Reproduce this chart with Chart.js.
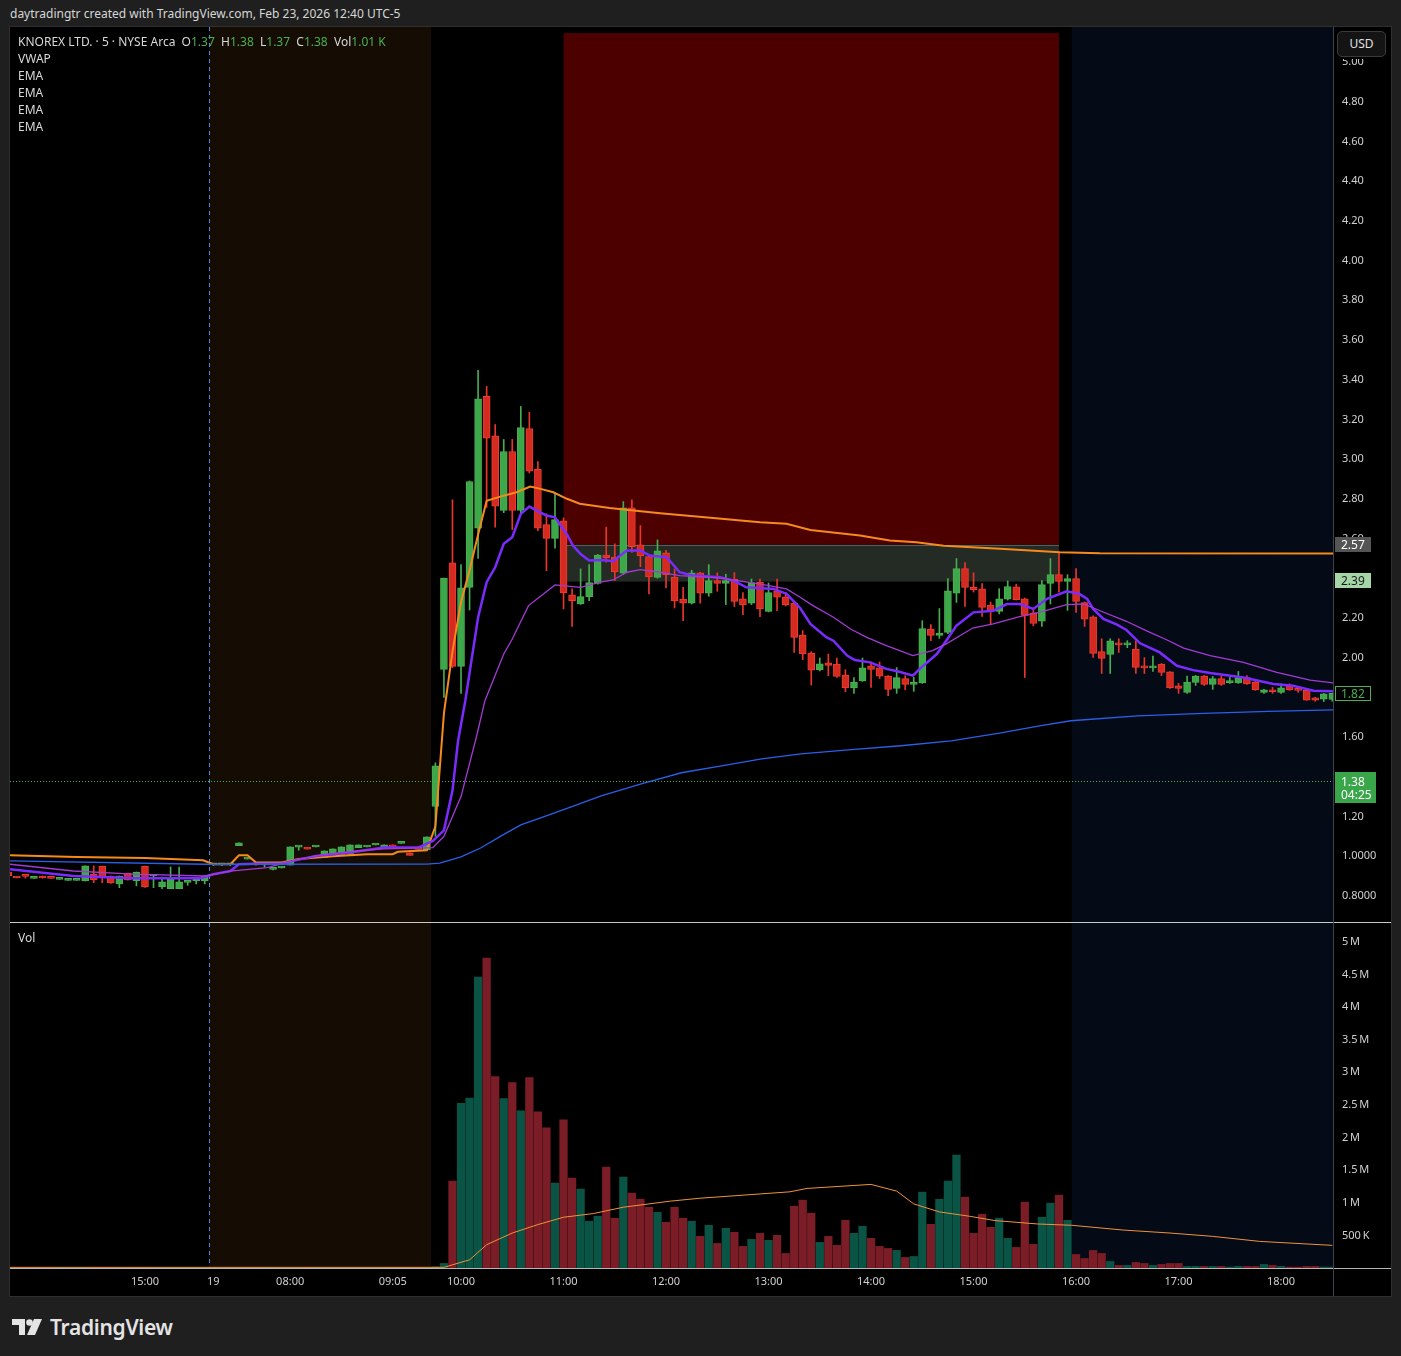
<!DOCTYPE html>
<html>
<head>
<meta charset="utf-8">
<script src="https://cdn.jsdelivr.net/npm/chart.js@4.4.1/dist/chart.umd.min.js"></script>
<style>
body{margin:0;background:#1f1f1f;width:1401px;height:1356px;position:relative;overflow:hidden;font-family:"Noto Sans",Lato,sans-serif;color:#d1d4dc}
.abs{position:absolute}
#top{left:10px;top:5px;font-size:12px;color:#d6d6d6}
#frame{left:9px;top:26px;width:1383px;height:1271px;border:1px solid #2f2f2f;box-sizing:border-box;background:#000}
#pwrap{left:10px;top:27px;width:1381px;height:895px}
#vwrap{left:10px;top:923px;width:1381px;height:373px}
#sep{left:10px;top:922px;width:1381px;height:1px;background:#c9c9c9}
#tline{left:10px;top:1268px;width:1381px;height:1px;background:#b5b5b5}
#vline{left:1333px;top:27px;width:1px;height:1269px;background:#3d4250}
.leg{left:18px;font-size:12px;color:#d8d8d8;line-height:17px}
.g{color:#4caf50}
#usdbg{left:1334px;top:27px;width:57px;height:32px;background:#000}
#usd{left:1337px;top:31px;width:49px;height:26px;border:1px solid #3a3a3a;border-radius:5px;background:#141414;box-sizing:border-box;font-size:12px;color:#e0e0e0;text-align:center;line-height:24px}
#logo{left:12px;top:1314px;height:26px;display:flex;align-items:center;gap:8px;color:#e4e4e4;font-size:21px;font-weight:600;letter-spacing:-0.3px}
</style>
</head>
<body>
<div id="top" class="abs">daytradingtr created with TradingView.com, Feb 23, 2026 12:40 UTC-5</div>
<div id="frame" class="abs"></div>
<div id="pwrap" class="abs"><canvas id="price" width="1381" height="895"></canvas></div>
<div id="vwrap" class="abs"><canvas id="vol" width="1381" height="373"></canvas></div>
<div id="sep" class="abs"></div>
<div id="tline" class="abs"></div>
<div id="vline" class="abs"></div>
<div class="abs leg" style="top:33px">KNOREX LTD. · 5 · NYSE Arca&nbsp; O<span class="g">1.37</span>&nbsp; H<span class="g">1.38</span>&nbsp; L<span class="g">1.37</span>&nbsp; C<span class="g">1.38</span>&nbsp; Vol<span class="g">1.01 K</span></div>
<div class="abs leg" style="top:50px">VWAP</div>
<div class="abs leg" style="top:67px">EMA</div>
<div class="abs leg" style="top:84px">EMA</div>
<div class="abs leg" style="top:101px">EMA</div>
<div class="abs leg" style="top:118px">EMA</div>
<div class="abs leg" style="top:929px">Vol</div>
<div id="usdbg" class="abs"></div>
<div id="usd" class="abs">USD</div>
<div id="logo" class="abs">
  <svg width="30" height="18" viewBox="0 0 30 18"><path d="M0 1h13v16h-6V7H0z" fill="#e4e4e4"/><circle cx="17.5" cy="4.5" r="3.3" fill="#e4e4e4"/><path d="M22 1h8l-7 16h-8z" fill="#e4e4e4"/></svg>
  <span>TradingView</span>
</div>

<script>
// bar positions: index 0 = first visible bar (Feb 18), index 53 = 10:00 Feb 19
const openP = [
  .92,.895,.90,.888,.90,.89,.883,.878,.878,.875,
  .91,.95,.90,.86,.915,.875,.95,.90,.846,.836,
  .836,.868,.875,.875,.956,.956,.956,1.053,.985,.958,
  .956,.933,.94,.955,1.045,1.043,1.046,.993,1.013,1.004,
  1.008,1.043,1.046,1.056,1.043,1.057,1.064,1.017,1.036,1.033,
  1.25,1.94,2.477,1.956,2.354,2.652,3.316,3.117,2.741,3.038,
  2.741,3.154,2.948,2.670,2.601,2.689,2.316,2.270,2.307,2.374,
  2.517,2.507,2.425,2.754,2.568,2.509,2.404,2.528,2.406,2.295,
  2.274,2.427,2.324,2.388,2.374,2.396,2.296,2.274,2.381,2.233,
  2.337,2.306,2.275,2.114,2.023,1.939,1.974,1.968,1.912,1.847,
  1.882,1.958,1.948,1.907,1.845,1.894,1.865,1.873,2.144,2.112,
  2.127,2.324,2.448,2.354,2.346,2.265,2.233,2.294,2.356,2.296,
  2.226,2.183,2.374,2.418,2.384,2.398,2.277,2.206,2.030,2.016,
  2.074,2.064,2.043,1.958,1.948,1.968,1.928,1.858,1.825,1.875,
  1.907,1.865,1.894,1.874,1.873,1.899,1.877,1.825,1.838,1.825,
  1.858,1.84,1.835,1.798,1.791,1.79
];
const highP = [
  .92,.895,.90,.89,.90,.89,.885,.88,.88,.951,
  .951,.95,.90,.90,.915,.92,.95,.905,.895,.945,
  .945,.87,.89,.90,.96,.96,.96,1.067,.99,.96,
  .958,.936,.944,1.047,1.048,1.044,1.048,1.027,1.037,1.047,
  1.057,1.057,1.048,1.058,1.057,1.057,1.066,1.017,1.036,1.097,
  1.47,2.40,2.795,2.468,2.89,3.447,3.366,3.174,3.099,3.099,
  3.265,3.236,2.988,2.724,2.825,2.704,2.346,2.447,2.468,2.52,
  2.657,2.573,2.786,2.795,2.665,2.51,2.593,2.54,2.447,2.354,
  2.44,2.43,2.468,2.427,2.42,2.428,2.327,2.396,2.396,2.376,
  2.396,2.327,2.28,2.136,2.03,1.998,2.018,1.998,1.939,1.899,
  1.998,1.978,1.978,1.91,1.95,1.909,1.90,2.186,2.166,2.247,
  2.398,2.499,2.479,2.427,2.373,2.28,2.347,2.386,2.37,2.30,
  2.25,2.388,2.499,2.529,2.418,2.448,2.28,2.21,2.095,2.095,
  2.095,2.085,2.085,2.0,2.008,1.97,1.93,1.87,1.907,1.91,
  1.91,1.905,1.907,1.90,1.93,1.91,1.88,1.84,1.85,1.868,
  1.868,1.842,1.84,1.80,1.82,1.82
];
const lowP = [
  .90,.89,.889,.888,.889,.888,.883,.878,.878,.875,
  .866,.866,.863,.841,.879,.85,.843,.841,.836,.836,
  .836,.853,.86,.86,.953,.953,.953,1.053,.985,.955,
  .945,.93,.94,.955,1.03,1.035,1.046,.993,1.013,1.004,
  1.008,1.043,1.046,1.056,1.043,1.047,1.064,1.004,1.034,1.033,
  1.10,1.80,1.95,1.82,2.24,2.50,2.757,2.657,2.73,2.645,
  2.72,2.93,2.64,2.438,2.551,2.245,2.157,2.268,2.287,2.37,
  2.48,2.388,2.42,2.53,2.458,2.321,2.40,2.351,2.25,2.186,
  2.27,2.274,2.309,2.334,2.267,2.257,2.216,2.267,2.206,2.23,
  2.236,2.26,2.026,1.99,1.862,1.933,1.909,1.90,1.828,1.82,
  1.88,1.85,1.895,1.808,1.82,1.838,1.83,1.87,2.085,2.097,
  2.12,2.278,2.258,2.33,2.208,2.17,2.22,2.29,2.29,1.90,
  2.16,2.157,2.27,2.33,2.238,2.228,2.157,2.001,1.92,1.92,
  2.026,2.05,1.92,1.92,1.93,1.909,1.845,1.82,1.82,1.86,
  1.86,1.84,1.86,1.87,1.87,1.865,1.835,1.82,1.82,1.82,
  1.835,1.825,1.785,1.78,1.779,1.78
];
const closeP = [
  .90,.89,.898,.89,.89,.888,.885,.88,.88,.951,
  .88,.895,.865,.90,.88,.92,.845,.905,.87,.884,
  .87,.87,.89,.90,.958,.958,.958,1.067,.988,.956,
  .958,.935,.943,1.047,1.047,1.035,1.048,1.027,1.037,1.047,
  1.057,1.057,1.048,1.058,1.057,1.047,1.066,1.004,1.034,1.097,
  1.455,2.40,1.956,2.351,2.887,3.304,3.105,2.763,3.038,2.741,
  3.159,2.939,2.652,2.601,2.695,2.326,2.287,2.307,2.378,2.517,
  2.504,2.432,2.754,2.559,2.512,2.406,2.538,2.417,2.285,2.274,
  2.427,2.324,2.388,2.374,2.388,2.283,2.265,2.378,2.245,2.327,
  2.304,2.265,2.102,2.018,1.937,1.969,1.961,1.905,1.847,1.877,
  1.948,1.941,1.907,1.84,1.899,1.865,1.873,2.146,2.112,2.124,
  2.337,2.448,2.354,2.342,2.253,2.233,2.296,2.358,2.292,2.213,
  2.172,2.368,2.418,2.384,2.398,2.283,2.193,2.021,1.996,2.085,
  2.064,2.074,1.951,1.948,1.958,1.926,1.847,1.845,1.877,1.907,
  1.865,1.894,1.865,1.877,1.899,1.867,1.837,1.838,1.828,1.848,
  1.837,1.835,1.786,1.786,1.818,1.82
];
// volume in millions
const volM = [
  .01,.01,.01,.01,.01,.01,.01,.01,.01,.01,
  .01,.01,.01,.01,.01,.01,.01,.01,.01,.01,
  .01,.01,.01,.01,.01,.01,.01,.01,.01,.01,
  .01,.01,.01,.01,.01,.01,.01,.01,.01,.01,
  .01,.01,.01,.01,.01,.01,.01,.01,.01,.01,
  .02,.07,1.333,2.524,2.607,4.46,4.753,2.935,2.596,2.843,
  2.411,2.92,2.396,2.149,1.302,2.273,1.379,1.21,.717,.794,
  1.549,.763,1.394,1.148,1.055,.932,.855,.701,.932,.763,
  .717,.485,.655,.377,.609,.547,.331,.439,.532,.424,
  .501,.223,.948,1.04,.84,.393,.485,.347,.732,.532,
  .64,.455,.331,.30,.27,.162,.177,1.163,.67,1.055,
  1.333,1.733,1.086,.532,.824,.624,.763,.455,.316,1.01,
  .362,.778,.994,1.117,.732,.208,.146,.27,.223,.10,
  .04,.04,.085,.07,.04,.055,.07,.07,.025,.025,
  .025,.025,.025,.015,.025,.025,.025,.055,.04,.025,
  .015,.015,.025,.025,.015,.015
];

// indicator lines: [barPosition, value]
const vwapLine = [[0.2,1.004],[8,.995],[16,.99],[22.8,.979],[24,.959],[26,.959],[27,1.004],[28,1.004],[29,.968],[32,.968],[34,.985],[38,1.0],[42,1.009],[45,1.01],[45.6,1.022],[49,1.029],[50,1.15],[51,1.72],[52,2.03],[53,2.28],[54,2.44],[55,2.62],[56,2.79],[57.6,2.811],[59.5,2.833],[61.1,2.862],[62.3,2.85],[63.8,2.833],[65.4,2.80],[66.9,2.775],[70.4,2.754],[76.3,2.727],[82.2,2.704],[88,2.682],[91.1,2.674],[93.9,2.643],[99.7,2.615],[103.2,2.59],[106.3,2.581],[109.5,2.564],[116.1,2.548],[123.1,2.531],[127.8,2.526],[155.1,2.524]];
const emaFast = [[0.2,.934],[7.6,.90],[14.6,.889],[22.5,.889],[24,.909],[26,.925],[27,.959],[29,.962],[32,.962],[33.3,.976],[36,1.001],[40,1.018],[44,1.043],[48,1.043],[49.7,1.077],[51,1.13],[52,1.33],[52.65,1.58],[53.5,1.783],[55,2.203],[56,2.38],[57,2.455],[58,2.573],[59,2.606],[60,2.724],[61,2.761],[62.25,2.732],[63,2.716],[64,2.707],[65.4,2.62],[66.1,2.564],[67,2.522],[68,2.489],[69.7,2.492],[70.8,2.486],[72.4,2.539],[74,2.539],[75.1,2.514],[77.1,2.505],[78.6,2.43],[80.2,2.413],[83.3,2.405],[84.9,2.388],[86.4,2.354],[89.6,2.346],[91.1,2.321],[92.7,2.25],[93.9,2.17],[95.8,2.102],[96.6,2.085],[98.2,2.01],[99.1,1.988],[100.9,1.976],[102.8,1.943],[104.3,1.929],[105.9,1.909],[106.7,1.943],[108.7,2.018],[109.8,2.085],[111,2.161],[113,2.228],[115.3,2.236],[116.9,2.27],[118.4,2.27],[120,2.245],[121.6,2.296],[123.9,2.334],[125.4,2.321],[126.3,2.296],[127,2.245],[128.2,2.195],[129.8,2.166],[130.9,2.139],[132.5,2.072],[134.8,2.026],[136.8,1.959],[138.7,1.937],[140.7,1.922],[144.6,1.90],[148.1,1.867],[150.4,1.858],[152.8,1.833],[155.1,1.83]];
const emaMid = [[0.2,.959],[7.6,.925],[14.6,.909],[23,.90],[26,.925],[30.3,.942],[33.3,.976],[36,1.001],[41,1.027],[44,1.037],[49.7,1.043],[51,1.10],[53,1.30],[54.8,1.60],[55.8,1.783],[58,2.018],[59,2.094],[60.9,2.262],[64,2.366],[67,2.354],[69.3,2.38],[70.8,2.391],[72.4,2.43],[74,2.443],[76.3,2.43],[78.6,2.413],[83.3,2.401],[87.9,2.371],[91.1,2.346],[92.7,2.304],[94.2,2.262],[96.6,2.203],[98.6,2.144],[100.5,2.102],[102.8,2.06],[105.9,2.01],[108.2,2.035],[109.8,2.069],[111.4,2.11],[112.9,2.149],[115.3,2.17],[118.4,2.206],[120.7,2.228],[123.9,2.267],[125.9,2.27],[127.8,2.236],[130.9,2.183],[133.2,2.136],[135.6,2.09],[137.6,2.048],[140.7,2.01],[144.6,1.976],[148.5,1.926],[152.4,1.887],[155.1,1.873]];
const emaSlow = [[0.2,.976],[23,.959],[49,.96],[50.5,.965],[53,.996],[55.3,1.041],[57.7,1.102],[60,1.157],[62.4,1.194],[65.9,1.248],[69.4,1.304],[74.1,1.364],[78.8,1.42],[83.5,1.455],[88.2,1.49],[92.8,1.515],[98.7,1.536],[104.5,1.556],[110.4,1.581],[116.2,1.621],[120.9,1.657],[124.4,1.682],[132.2,1.707],[139.9,1.719],[147.5,1.729],[155.1,1.737]];
const volAvg = [[0,.01],[51,.01],[54,.126],[56,.357],[59,.536],[62,.666],[65,.778],[68.5,.835],[72,.932],[77.5,1.025],[81,1.07],[91.5,1.168],[93.5,1.22],[101,1.282],[104,1.179],[106,.983],[109,.86],[112.5,.794],[115.5,.727],[120.5,.675],[124.5,.655],[130.5,.582],[136,.536],[141,.485],[146.5,.408],[155,.347]];

// time axis labels at bar positions
const timeTickPos = [16, 24, 33, 45, 53, 65, 77, 89, 101, 113, 125, 137, 149];
const timeTickText = ['15:00', '19', '08:00', '09:05', '10:00', '11:00', '12:00', '13:00', '14:00', '15:00', '16:00', '17:00', '18:00'];
const priceTicks = [0.8, 1.0, 1.2, 1.4, 1.6, 1.8, 2.0, 2.2, 2.4, 2.6, 2.8, 3.0, 3.2, 3.4, 3.6, 3.8, 4.0, 4.2, 4.4, 4.6, 4.8, 5.0];
const volTicks = [0.5, 1, 1.5, 2, 2.5, 3, 3.5, 4, 4.5, 5];

// sessions, zones and price levels
const DAY_SPLIT = 23.5, PRE_END = 49.5, POST_START = 124.5;
const ZONE_FROM = 65, ZONE_TO = 123;
const STOP_TOP = 5.146, ENTRY = 2.569, TARGET = 2.383;
const LAST_PRICE = 1.38;

const X_MIN = 0.2, X_MAX = 155.08;
const P_MIN = 0.6682, P_MAX = 5.1765;

const up = openP.map((o, k) => closeP[k] >= o);
const bodyFill = up.map(u => u ? '#3da84a' : '#d42a20');
const bodyEdge = up.map(u => u ? '#4caf50' : '#f03c30');
const wickCol = up.map(u => u ? '#46ad52' : '#e8362b');
const volCol = up.map(u => u ? '#0a5446' : '#7b1d26');

const FONT = {family: '"Noto Sans", sans-serif', size: 11};
const pts = arr => arr.map(p => ({x: p[0], y: p[1]}));

function noPadV(s, w) { s.width = w; s.paddingTop = 0; s.paddingBottom = 0; }
function noPadH(s, h) { s.height = h; s.paddingLeft = 0; s.paddingRight = 0; }

const bgPlugin = {
  id: 'bg',
  beforeDatasetsDraw(chart, args, opts) {
    const {ctx, chartArea: a, scales: {x, y}} = chart;
    const px = v => x.getPixelForValue(v);
    ctx.save();
    ctx.beginPath(); ctx.rect(a.left, a.top, a.width, a.height); ctx.clip();
    ctx.fillStyle = '#150d04';
    ctx.fillRect(px(DAY_SPLIT), a.top, px(PRE_END) - px(DAY_SPLIT), a.height);
    ctx.fillStyle = '#050a17';
    ctx.fillRect(px(POST_START), a.top, a.right - px(POST_START), a.height);
    if (opts.zones) {
      ctx.fillStyle = '#4c0000';
      ctx.fillRect(px(ZONE_FROM), y.getPixelForValue(STOP_TOP), px(ZONE_TO) - px(ZONE_FROM), y.getPixelForValue(ENTRY) - y.getPixelForValue(STOP_TOP));
      ctx.fillStyle = '#242a24';
      ctx.fillRect(px(ZONE_FROM), y.getPixelForValue(ENTRY), px(ZONE_TO) - px(ZONE_FROM), y.getPixelForValue(TARGET) - y.getPixelForValue(ENTRY));
      ctx.fillStyle = '#5c5c5c';
      ctx.fillRect(px(ZONE_FROM), Math.round(y.getPixelForValue(ENTRY)), px(ZONE_TO) - px(ZONE_FROM), 1);
    }
    ctx.strokeStyle = '#4a86e8';
    ctx.setLineDash([4, 4]);
    ctx.lineWidth = 1;
    ctx.beginPath();
    const dx = Math.round(px(DAY_SPLIT)) + 0.5;
    ctx.moveTo(dx, a.top); ctx.lineTo(dx, a.bottom); ctx.stroke();
    ctx.restore();
  }
};

function tag(ctx, x, yc, w, h, fill, stroke, lines, color) {
  ctx.fillStyle = fill;
  ctx.fillRect(x, Math.round(yc - h / 2), w, h);
  if (stroke) {
    ctx.strokeStyle = stroke; ctx.lineWidth = 1;
    ctx.strokeRect(x + 0.5, Math.round(yc - h / 2) + 0.5, w - 1, h - 1);
  }
  ctx.fillStyle = color;
  ctx.font = '12px "Noto Sans", sans-serif';
  ctx.textAlign = 'left'; ctx.textBaseline = 'middle';
  const lh = 13;
  lines.forEach((t, j) => ctx.fillText(t, x + 6, yc + (j - (lines.length - 1) / 2) * lh + 1));
}

const tagPlugin = {
  id: 'tags',
  afterDatasetsDraw(chart) {
    const {ctx, chartArea: a, scales: {y}} = chart;
    const yl = Math.round(y.getPixelForValue(LAST_PRICE)) + 0.5;
    ctx.save();
    ctx.strokeStyle = '#4caf50'; ctx.setLineDash([1, 2]); ctx.lineWidth = 1;
    ctx.beginPath(); ctx.moveTo(a.left, yl); ctx.lineTo(a.right, yl); ctx.stroke();
    ctx.restore();
  },
  afterDraw(chart) {
    const {ctx, chartArea: a, scales: {y}} = chart;
    const x0 = a.right + 2;
    ctx.save();
    tag(ctx, x0, y.getPixelForValue(ENTRY), 36, 15, '#555555', null, ['2.57'], '#ffffff');
    tag(ctx, x0, y.getPixelForValue(2.39), 36, 15, '#a5d6a7', null, ['2.39'], '#1a1a1a');
    tag(ctx, x0, y.getPixelForValue(closeP[closeP.length - 1]), 36, 15, '#000000', '#4caf50', ['1.82'], '#4caf50');
    tag(ctx, x0, y.getPixelForValue(LAST_PRICE) + 7, 41, 31, '#3aa64a', null, ['1.38', '04:25'], '#ffffff');
    ctx.restore();
  }
};

new Chart(document.getElementById('price'), {
  type: 'bar',
  data: {
    datasets: [
      {type: 'line', data: pts(emaSlow), borderColor: '#2a5fe8', borderWidth: 1.3, pointRadius: 0, order: 0},
      {type: 'line', data: pts(emaMid), borderColor: '#a33ad6', borderWidth: 1.3, pointRadius: 0, order: 0},
      {type: 'line', data: pts(emaFast), borderColor: '#7a2cff', borderWidth: 2.5, pointRadius: 0, order: 0},
      {type: 'line', data: pts(vwapLine), borderColor: '#f78a1d', borderWidth: 2, pointRadius: 0, order: 0},
      {type: 'bar', data: lowP.map((l, k) => ({x: k, y: [l, highP[k]]})), backgroundColor: wickCol, barThickness: 1, grouped: false, order: 3},
      {type: 'bar', data: openP.map((o, k) => ({x: k, y: [o, closeP[k]]})), backgroundColor: bodyFill, borderColor: bodyEdge, borderWidth: 1, borderSkipped: false, barThickness: 7, minBarLength: 2, grouped: false, order: 2}
    ]
  },
  options: {
    animation: false, responsive: false, maintainAspectRatio: false,
    layout: {padding: 0},
    plugins: {legend: {display: false}, tooltip: {enabled: false}, bg: {zones: true}},
    scales: {
      x: {type: 'linear', min: X_MIN, max: X_MAX, offset: false, display: false},
      y: {
        position: 'right', min: P_MIN, max: P_MAX,
        afterFit(s) { noPadV(s, 58); },
        afterBuildTicks(s) { s.ticks = priceTicks.map(v => ({value: v})); },
        ticks: {color: '#d0d0d0', font: FONT, padding: 9, callback: v => v >= 1.1 ? v.toFixed(2) : v.toFixed(4)},
        grid: {display: false, drawTicks: false},
        border: {display: false}
      }
    }
  },
  plugins: [bgPlugin, tagPlugin]
});

new Chart(document.getElementById('vol'), {
  type: 'bar',
  data: {
    datasets: [
      {type: 'line', data: pts(volAvg), borderColor: '#f0923a', borderWidth: 1, pointRadius: 0, order: 0},
      {type: 'bar', data: volM.map((v, k) => ({x: k, y: v})), backgroundColor: volCol, barThickness: 7.6, grouped: false, order: 1}
    ]
  },
  options: {
    animation: false, responsive: false, maintainAspectRatio: false,
    layout: {padding: 0},
    plugins: {legend: {display: false}, tooltip: {enabled: false}, bg: {zones: false}},
    scales: {
      x: {
        type: 'linear', min: X_MIN, max: X_MAX, offset: false,
        afterFit(s) { noPadH(s, 28); },
        afterBuildTicks(s) { s.ticks = timeTickPos.map(v => ({value: v})); },
        ticks: {color: '#d0d0d0', font: FONT, padding: 7, maxRotation: 0, autoSkip: false, callback: v => timeTickText[timeTickPos.indexOf(v)]},
        grid: {display: false, drawTicks: false},
        border: {display: false}
      },
      y: {
        position: 'right', min: 0, max: 5.29,
        afterFit(s) { noPadV(s, 58); },
        afterBuildTicks(s) { s.ticks = volTicks.map(v => ({value: v})); },
        ticks: {color: '#d0d0d0', font: FONT, padding: 9, callback: v => v < 1 ? (v * 1000) + '\u202FK' : v + '\u202FM'},
        grid: {display: false, drawTicks: false},
        border: {display: false}
      }
    }
  },
  plugins: [bgPlugin]
});
</script>
</body>
</html>
